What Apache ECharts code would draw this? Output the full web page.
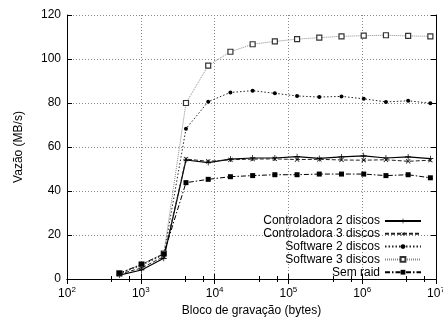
<!DOCTYPE html>
<html>
<head>
<meta charset="utf-8">
<script src="https://cdn.jsdelivr.net/npm/echarts@6/dist/echarts.min.js"></script>
<style>
  html, body { margin: 0; padding: 0; background: #fff; }
  #chart { width: 443px; height: 320px; }
</style>
</head>
<body>
<div id="chart"></div>
<script>
// block sizes (bytes)
const blocks = [512, 1024, 2048, 4096, 8192, 16384, 32768, 65536, 131072,
  262144, 524288, 1048576, 2097152, 4194304, 8388608];

// throughput in MB/s
const ctrl2 = [1.8, 4.1, 9.4, 54.1, 52.9, 54.5, 55.0, 55.0, 55.6, 54.8, 55.5, 56.0, 55.0, 55.5, 54.7];
const ctrl3 = [2.2, 5.0, 10.2, 54.5, 53.5, 54.2, 54.5, 54.6, 54.3, 54.4, 54.1, 54.0, 54.2, 53.5, 54.0];
const soft2 = [2.4, 6.2, 11.0, 68.3, 80.6, 84.8, 85.6, 84.4, 83.2, 82.7, 83.0, 81.9, 80.5, 81.0, 79.9];
const soft3 = [2.6, 6.6, 11.6, 80.0, 97.0, 103.3, 106.7, 108.0, 109.0, 109.7, 110.3, 110.6, 110.8, 110.5, 110.3];
const semRaid = [2.6, 6.7, 11.4, 43.8, 45.3, 46.5, 47.0, 47.4, 47.4, 47.7, 47.7, 47.7, 47.0, 47.4, 46.0];

const names = ['Controladora 2 discos', 'Controladora 3 discos', 'Software 2 discos', 'Software 3 discos', 'Sem raid'];

const plus = 'path://M-0.6,-5H0.6V-0.6H5V0.6H0.6V5H-0.6V0.6H-5V-0.6H-0.6Z';

function pairs(vals) {
  return blocks.map((b, i) => [b, vals[i]]);
}

const font = 'Liberation Sans, Arial, sans-serif';

const chart = echarts.init(document.getElementById('chart'));

const tickAxisX = {
  type: 'log', logBase: 10, min: 100, max: 1e7,
  axisLine: { lineStyle: { color: '#000', width: 1 } },
  axisTick: { inside: true, length: 5, lineStyle: { color: '#000' } },
  minorTick: { show: true, splitNumber: 3, length: 3, lineStyle: { color: '#000' } },
  splitLine: { show: false }
};

chart.setOption({
  animation: false,
  textStyle: { fontFamily: font },
  grid: { left: 67, right: 7, top: 15, bottom: 41, show: false, outerBoundsMode: 'none', containLabel: false },
  legend: {
    orient: 'vertical',
    right: 21,
    top: 215,
    align: 'right',
    itemWidth: 36,
    itemHeight: 6,
    itemGap: 0.8,
    padding: 0,
    textStyle: { fontSize: 12, lineHeight: 12, color: '#000', fontFamily: font },
    data: names
  },
  xAxis: [
    Object.assign({}, tickAxisX, {
      position: 'bottom',
      name: 'Bloco de gravação (bytes)',
      nameLocation: 'middle',
      nameGap: 25,
      nameTextStyle: { fontSize: 12, color: '#000', fontFamily: font },
      axisLabel: {
        margin: 7,
        color: '#000',
        fontSize: 12,
        fontFamily: font,
        formatter: v => '10{sup|' + Math.round(Math.log10(v)) + '}',
        rich: { sup: { fontSize: 8, verticalAlign: 'top', padding: [0, 0, 8, 0], fontFamily: font, color: '#000' } }
      },
      splitLine: { show: true, lineStyle: { color: '#888', type: [1, 2], width: 1 } }
    }),
    Object.assign({}, tickAxisX, {
      position: 'top',
      axisLabel: { show: false }
    })
  ],
  yAxis: [
    {
      type: 'value', min: 0, max: 120, interval: 20,
      name: 'Vazão (MB/s)',
      nameLocation: 'middle',
      nameGap: 42,
      nameTextStyle: { fontSize: 12, color: '#000', fontFamily: font },
      axisLine: { show: true, lineStyle: { color: '#000' } },
      axisTick: { show: true, inside: true, length: 5, lineStyle: { color: '#000' } },
      axisLabel: { margin: 6, color: '#000', fontSize: 12, fontFamily: font },
      splitLine: { show: true, lineStyle: { color: '#888', type: [1, 2], width: 1 } }
    },
    {
      type: 'value', min: 0, max: 120, interval: 20, position: 'right',
      axisLine: { show: true, lineStyle: { color: '#000' } },
      axisTick: { show: true, inside: true, length: 5, lineStyle: { color: '#000' } },
      axisLabel: { show: false },
      splitLine: { show: false }
    }
  ],
  series: [
    {
      name: names[0], type: 'line', data: pairs(ctrl2),
      symbol: plus, symbolSize: 6,
      itemStyle: { color: '#000' },
      lineStyle: { color: '#000', width: 1.2, type: 'solid' }
    },
    {
      name: names[1], type: 'line', data: pairs(ctrl3),
      symbol: plus, symbolSize: 6, symbolRotate: 45,
      itemStyle: { color: '#000' },
      lineStyle: { color: '#222', width: 1, type: [4, 2] }
    },
    {
      name: names[2], type: 'line', data: pairs(soft2),
      symbol: 'circle', symbolSize: 4,
      itemStyle: { color: '#000' },
      lineStyle: { color: '#222', width: 1, type: [1.5, 2] }
    },
    {
      name: names[3], type: 'line', data: pairs(soft3),
      symbol: 'rect', symbolSize: 5,
      itemStyle: { color: '#fff', borderColor: '#333', borderWidth: 1.2 },
      lineStyle: { color: '#888', width: 1, type: [1, 1] }
    },
    {
      name: names[4], type: 'line', data: pairs(semRaid),
      symbol: 'rect', symbolSize: 5,
      itemStyle: { color: '#000' },
      lineStyle: { color: '#000', width: 1, type: [5, 2, 1.5, 2] }
    }
  ]
});
</script>
</body>
</html>
